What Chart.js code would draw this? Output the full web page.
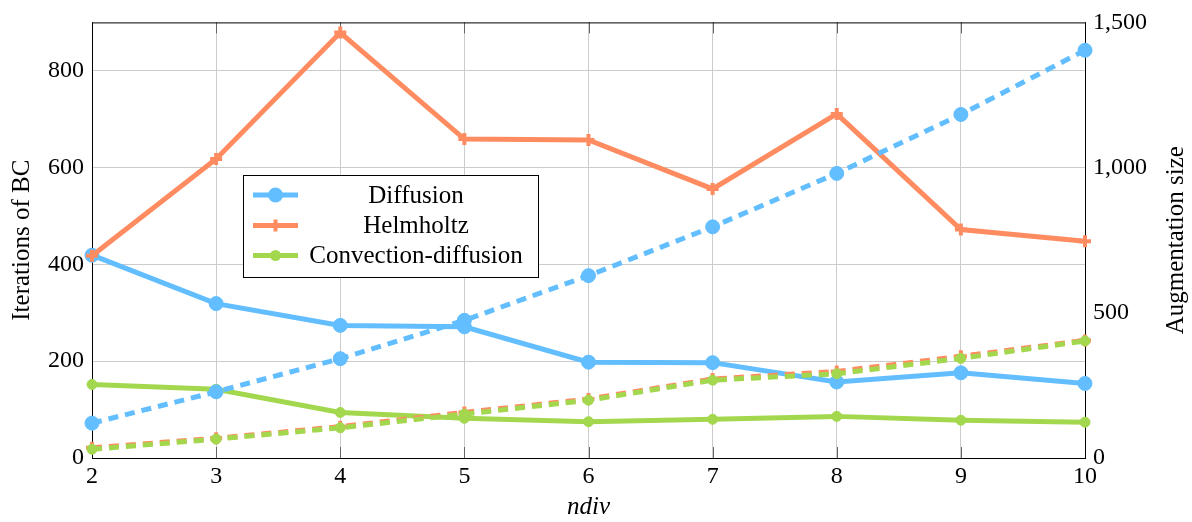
<!DOCTYPE html>
<html>
<head>
<meta charset="utf-8">
<script src="https://cdn.jsdelivr.net/npm/chart.js@4/dist/chart.umd.min.js"></script>
<style>
  html, body { margin: 0; padding: 0; background: #fff; }
  #wrap { width: 1192px; height: 522px; position: relative; }
</style>
</head>
<body>
<div id="wrap"><canvas id="c"></canvas></div>
<script>
// Mesh subdivisions
const ndiv = [2, 3, 4, 5, 6, 7, 8, 9, 10];

// Iterations of BC (left axis, solid lines)
const diffusionIter  = [419, 319, 274, 271, 198, 197, 157, 176, 154];
const helmholtzIter  = [418, 618, 879, 659, 657, 556, 711, 472, 448];
const convectionIter = [152, 142, 94, 82, 75, 80, 86, 78, 74];

// Augmentation size (right axis, dashed lines)
const diffusionAug  = [120, 228, 342, 474, 628, 796, 980, 1183, 1404];
const helmholtzAug  = [35, 68, 108, 157, 203, 272, 298, 350, 405];
const convectionAug = [30, 65, 104, 151, 199, 268, 290, 343, 403];

const leftTicks  = [0, 200, 400, 600, 800];
const rightTicks = [0, 500, 1000, 1500];

const seriesNames = ['Diffusion', 'Helmholtz', 'Convection-diffusion'];

const BLUE = 'rgb(98,190,255)';
const ORANGE = 'rgb(255,140,97)';
const GREEN = 'rgb(163,216,78)';
const FONT = '"Liberation Serif", "DejaVu Serif", serif';

const styles = [
  { color: BLUE,   pointStyle: 'circle', radius: 7, border: 1 },
  { color: ORANGE, pointStyle: 'cross',  radius: 6, border: 4 },
  { color: GREEN,  pointStyle: 'circle', radius: 5, border: 1 }
];

function makeSet(label, data, s, axis, dashed, idx) {
  return {
    label, data,
    yAxisID: axis,
    borderColor: s.color,
    backgroundColor: s.color,
    borderWidth: 5,
    borderDash: dashed ? [10, 7] : [],
    borderCapStyle: 'butt',
    pointStyle: s.pointStyle,
    pointRadius: s.radius,
    pointHoverRadius: s.radius,
    pointBorderWidth: s.border,
    pointBackgroundColor: s.color,
    pointBorderColor: s.color,
    tension: 0,
    fill: false,
    clip: false,
    order: 5 - idx
  };
}

const datasets = [
  makeSet(seriesNames[0], diffusionIter,  styles[0], 'y',  false, 0),
  makeSet(seriesNames[1], helmholtzIter,  styles[1], 'y',  false, 1),
  makeSet(seriesNames[2], convectionIter, styles[2], 'y',  false, 2),
  makeSet(seriesNames[0] + ' size', diffusionAug,  styles[0], 'y1', true, 3),
  makeSet(seriesNames[1] + ' size', helmholtzAug,  styles[1], 'y1', true, 4),
  makeSet(seriesNames[2] + ' size', convectionAug, styles[2], 'y1', true, 5)
];

// Axis frame and inward tick marks along the top and bottom edges
const framePlugin = {
  id: 'frame',
  beforeDatasetsDraw(chart) {
    const { ctx, chartArea: a, scales } = chart;
    ctx.save();
    ctx.strokeStyle = '#666';
    ctx.lineWidth = 1;
    ndiv.forEach((v, i) => {
      const x = Math.round(scales.x.getPixelForValue(i)) + 0.5;
      ctx.beginPath();
      ctx.moveTo(x, a.bottom); ctx.lineTo(x, a.bottom - 11);
      ctx.moveTo(x, a.top); ctx.lineTo(x, a.top + 11);
      ctx.stroke();
    });
    ctx.strokeStyle = '#000';
    ctx.strokeRect(a.left + 0.5, a.top + 0.5, a.right - a.left, a.bottom - a.top);
    ctx.restore();
  }
};

// Boxed legend for the three problems, plus the right-hand axis title
const legendPlugin = {
  id: 'boxLegend',
  afterDatasetsDraw(chart) {
    const { ctx } = chart;
    const bx = 243, by = 175, bw = 295, bh = 102;
    ctx.save();
    ctx.fillStyle = '#fff';
    ctx.fillRect(bx, by, bw, bh);
    ctx.strokeStyle = '#000';
    ctx.lineWidth = 1;
    ctx.strokeRect(bx + 0.5, by + 0.5, bw, bh);
    const rows = [195, 225.5, 255.5];
    seriesNames.forEach((name, i) => {
      const s = styles[i];
      const y = rows[i];
      ctx.strokeStyle = s.color;
      ctx.fillStyle = s.color;
      ctx.lineWidth = 5;
      ctx.beginPath();
      ctx.moveTo(253, y); ctx.lineTo(298, y);
      ctx.stroke();
      if (s.pointStyle === 'circle') {
        ctx.beginPath();
        ctx.arc(275.5, y, s.radius + 0.5, 0, Math.PI * 2);
        ctx.fill();
      } else {
        ctx.lineWidth = s.border;
        ctx.beginPath();
        ctx.moveTo(275.5 - s.radius, y); ctx.lineTo(275.5 + s.radius, y);
        ctx.moveTo(275.5, y - s.radius); ctx.lineTo(275.5, y + s.radius);
        ctx.stroke();
      }
      ctx.fillStyle = '#000';
      ctx.font = '25px ' + FONT;
      ctx.textAlign = 'center';
      ctx.textBaseline = 'middle';
      ctx.fillText(name, 416, y + 1);
    });
    ctx.restore();
  },
  afterDraw(chart) {
    const { ctx, chartArea: a } = chart;
    ctx.save();
    ctx.translate(1176, (a.top + a.bottom) / 2);
    ctx.rotate(-Math.PI / 2);
    ctx.fillStyle = '#000';
    ctx.font = '25px ' + FONT;
    ctx.textAlign = 'center';
    ctx.textBaseline = 'middle';
    ctx.fillText('Augmentation size', 0, 0);
    ctx.restore();
  }
};

const tickFont = { family: FONT, size: 24 };
const titleFont = { family: FONT, size: 25 };

new Chart(document.getElementById('c'), {
  type: 'line',
  data: { labels: ndiv.map(String), datasets },
  options: {
    responsive: true,
    maintainAspectRatio: false,
    animation: false,
    events: [],
    layout: { padding: { top: 21, left: 0, right: 0, bottom: 0 } },
    plugins: { legend: { display: false }, tooltip: { enabled: false } },
    scales: {
      x: {
        type: 'category',
        offset: false,
        grid: { color: '#cccccc', lineWidth: 1, drawTicks: false },
        border: { color: '#000', width: 1 },
        ticks: { font: tickFont, color: '#000', padding: 4, maxRotation: 0, autoSkip: false },
        title: { display: true, text: 'ndiv', font: { ...titleFont, style: 'italic' }, color: '#000', padding: { top: 0, bottom: 0 } },
        afterFit(s) { s.height = 64; }
      },
      y: {
        type: 'linear',
        position: 'left',
        min: 0, max: 900,
        afterBuildTicks(s) { s.ticks = leftTicks.map(v => ({ value: v })); },
        grid: { color: '#cccccc', lineWidth: 1, drawTicks: false },
        border: { color: '#000', width: 1 },
        ticks: { font: tickFont, color: '#000', padding: 8 },
        title: { display: true, text: 'Iterations of BC', font: titleFont, color: '#000', padding: { top: 7, bottom: 0 } },
        afterFit(s) { s.width = 92; }
      },
      y1: {
        type: 'linear',
        position: 'right',
        min: 0, max: 1500,
        afterBuildTicks(s) { s.ticks = rightTicks.map(v => ({ value: v })); },
        grid: { display: false, drawTicks: false },
        border: { color: '#000', width: 1 },
        ticks: {
          font: tickFont, color: '#000', padding: 8,
          callback: v => Number(v).toLocaleString('en-US')
        },
        afterFit(s) { s.width = 107; }
      }
    }
  },
  plugins: [framePlugin, legendPlugin]
});
</script>
</body>
</html>
